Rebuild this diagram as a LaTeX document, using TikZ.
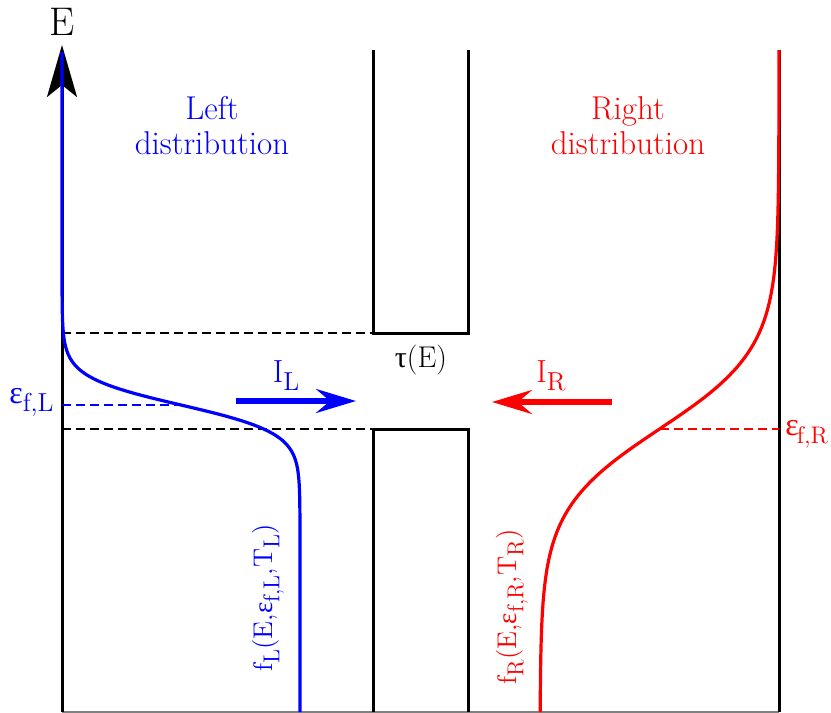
\documentclass[tikz,border=0pt]{standalone}
\usepackage{fontspec}
\newfontfamily\greekfont{Liberation Serif}
\usepackage{xcolor}
\usepackage{tikz}
\usetikzlibrary{arrows.meta,positioning}
\newcommand{\lowsub}[1]{\raisebox{-4pt}{\fontsize{13}{15}\selectfont #1}}
\newcommand{\smallsub}[1]{\raisebox{-3.5pt}{\fontsize{11.5}{13}\selectfont #1}}
\newcommand{\eps}{{\greekfont ε}}

\begin{document}
\begin{tikzpicture}[
  x=0.5pt, y=-0.5pt, font=\fontsize{16.5}{17.5}\selectfont, >=Stealth,
  axis/.style={black, line width=1.5pt},
  wall/.style={black, line width=1.5pt},
  guide/.style={dash pattern=on 4.5pt off 2.5pt, line width=0.6pt},
  distL/.style={blue, line width=1.6pt},
  distR/.style={red, line width=1.6pt},
  current/.style={line width=2.6pt, -{Stealth[length=20pt,width=12pt,inset=7pt]}},
  sym/.style={font=\fontsize{16}{19}\selectfont, inner sep=0pt},
  rotlbl/.style={font=\fontsize{13.5}{16}\selectfont, inner sep=0pt, rotate=90},
]
\useasboundingbox (0,0) rectangle (831,713);
% ---- axes and reservoirs
\coordinate (oL) at (62,712);
\coordinate (tipE) at (62,45);
\coordinate (oR) at (779,712);
\coordinate (topR) at (779,50);
\draw[gray, line width=0.6pt] (oL) -- (oR);
\draw[axis, -{Stealth[length=26pt,width=15pt,inset=6pt]}] (oL) -- (tipE);
\draw[axis] (oR) -- (topR);
\node[font=\fontsize{20}{22}\selectfont] (Elab) at (62,22) {E};
% ---- barrier
\coordinate (bTL) at (373,50);  \coordinate (bTR) at (468,50);
\coordinate (bBL) at (373,712); \coordinate (bBR) at (468,712);
\draw[wall] (bTL) |- (468,333) coordinate (bTc) -- (bTR);
\draw[wall] (bBL) |- (468,429) coordinate (bBc) -- (bBR);
\coordinate (gTop) at (62,333); \coordinate (gBot) at (62,429);
\draw[guide] (gTop) -- (373,333);
\draw[guide] (gBot) -- (373,429);
\node[font=\fontsize{15}{17}\selectfont] (tau) at (421,360) {{\greekfont τ}(E)};
% ---- left distribution (sharp)
\coordinate (muL) at (181,405);
\draw[guide, blue] (62,405) -- (muL);
\draw[distL] (62,52) -- (62,280)
  -- plot[domain=280:530, samples=120] ({62+238/(1+exp(-(\x-405)/14))}, \x)
  -- (300,712);
% ---- right distribution (broad)
\coordinate (muR) at (660,429);
\draw[guide, red] (muR) -- (779,429);
\draw[distR] (topR) -- (779,60)
  -- plot[domain=60:712, samples=160] ({779-239/(1+exp(-(\x-429)/40))}, \x);
% ---- currents
\coordinate (iLs) at (236,401); \coordinate (iLe) at (356,401);
\coordinate (iRs) at (612,402); \coordinate (iRe) at (492,402);
\draw[current, blue] (iLs) -- (iLe);
\draw[current, red] (iRs) -- (iRe);
\node[sym, text=blue] (IL) at (286,376) {I\lowsub{L}};
\node[sym, text=red] (IR) at (551,376) {I\lowsub{R}};
% ---- labels
\node[text=blue, align=center] (leftdist) at (212,126) {Left\\distribution};
\node[text=red, align=center] (rightdist) at (628,126) {Right\\distribution};
\node[sym, text=blue, anchor=east] (efL) at (54,402) {\eps\lowsub{f,L}};
\node[sym, text=red, anchor=west] (efR) at (785,434)
  {\eps\kern-1pt\lowsub{\fontsize{12}{14}\selectfont f,R}};
\node[rotlbl, text=blue] (fL) at (268,598)
  {f\smallsub{L}(E,\eps\smallsub{f,L},T\smallsub{L})};
\node[rotlbl, text=red] (fR) at (512,607)
  {f\smallsub{R}(E,\eps\smallsub{f,R},T\smallsub{R})};
\end{tikzpicture}
\end{document}
